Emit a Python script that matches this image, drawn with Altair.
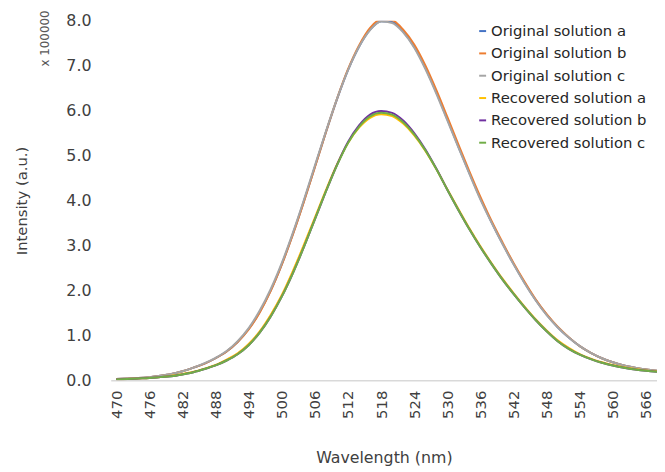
import altair as alt
import pandas as pd

wavelength = [470, 472, 474, 476, 478, 480, 482, 484, 486, 488,
              490, 492, 494, 496, 498, 500, 502, 504, 506, 508,
              510, 512, 514, 516, 518, 520, 522, 524, 526, 528,
              530, 532, 534, 536, 538, 540, 542, 544, 546, 548,
              550, 552, 554, 556, 558, 560, 562, 564, 566, 568]

orig_a = [0.03, 0.04, 0.05, 0.07, 0.10, 0.14, 0.20, 0.28, 0.37, 0.49,
          0.64, 0.85, 1.14, 1.52, 2.00, 2.58, 3.25, 3.98, 4.75, 5.52,
          6.25, 6.90, 7.42, 7.80, 7.99, 7.97, 7.76, 7.42, 6.96, 6.41,
          5.81, 5.20, 4.61, 4.04, 3.52, 3.04, 2.59, 2.17, 1.79, 1.46,
          1.18, 0.95, 0.76, 0.61, 0.49, 0.40, 0.33, 0.28, 0.24, 0.21]
orig_b = [0.03, 0.04, 0.05, 0.07, 0.10, 0.14, 0.20, 0.28, 0.37, 0.49,
          0.64, 0.85, 1.13, 1.51, 1.99, 2.57, 3.24, 3.97, 4.74, 5.52,
          6.26, 6.92, 7.45, 7.84, 8.03, 8.01, 7.80, 7.47, 7.01, 6.46,
          5.86, 5.25, 4.65, 4.08, 3.55, 3.07, 2.61, 2.19, 1.80, 1.47,
          1.19, 0.96, 0.76, 0.61, 0.49, 0.40, 0.33, 0.28, 0.24, 0.21]
orig_c = [0.03, 0.04, 0.05, 0.07, 0.10, 0.14, 0.20, 0.28, 0.38, 0.50,
          0.65, 0.87, 1.16, 1.55, 2.03, 2.61, 3.28, 4.01, 4.78, 5.54,
          6.26, 6.90, 7.42, 7.79, 7.98, 7.95, 7.74, 7.40, 6.93, 6.38,
          5.78, 5.18, 4.59, 4.02, 3.51, 3.03, 2.58, 2.16, 1.78, 1.45,
          1.18, 0.95, 0.76, 0.61, 0.49, 0.40, 0.33, 0.28, 0.24, 0.21]
rec_a = [0.02, 0.03, 0.04, 0.05, 0.07, 0.10, 0.14, 0.19, 0.26, 0.34,
         0.46, 0.60, 0.81, 1.09, 1.46, 1.90, 2.43, 3.01, 3.62, 4.23,
         4.80, 5.28, 5.62, 5.84, 5.92, 5.88, 5.71, 5.45, 5.11, 4.70,
         4.25, 3.81, 3.38, 2.98, 2.61, 2.26, 1.94, 1.64, 1.36, 1.11,
         0.89, 0.72, 0.58, 0.48, 0.40, 0.34, 0.29, 0.25, 0.22, 0.20]
rec_b = [0.02, 0.03, 0.04, 0.05, 0.07, 0.09, 0.13, 0.18, 0.25, 0.33,
         0.44, 0.58, 0.78, 1.06, 1.42, 1.86, 2.38, 2.96, 3.58, 4.20,
         4.79, 5.30, 5.67, 5.91, 5.99, 5.95, 5.78, 5.50, 5.14, 4.71,
         4.24, 3.79, 3.36, 2.96, 2.59, 2.24, 1.92, 1.62, 1.34, 1.09,
         0.87, 0.70, 0.57, 0.47, 0.39, 0.33, 0.28, 0.24, 0.21, 0.19]
rec_c = [0.02, 0.03, 0.04, 0.05, 0.07, 0.09, 0.13, 0.18, 0.25, 0.33,
         0.44, 0.58, 0.78, 1.06, 1.42, 1.86, 2.38, 2.96, 3.58, 4.20,
         4.78, 5.28, 5.64, 5.87, 5.95, 5.91, 5.74, 5.47, 5.12, 4.70,
         4.24, 3.79, 3.36, 2.96, 2.59, 2.24, 1.92, 1.62, 1.34, 1.09,
         0.87, 0.70, 0.57, 0.47, 0.39, 0.33, 0.28, 0.24, 0.21, 0.19]

series_names = ["Original solution a", "Original solution b", "Original solution c",
                "Recovered solution a", "Recovered solution b", "Recovered solution c"]
series_colors = ["#4472C4", "#ED7D31", "#A5A5A5", "#FFC000", "#7030A0", "#70AD47"]
x_ticks = [470, 476, 482, 488, 494, 500, 506, 512, 518, 524, 530, 536, 542, 548, 554, 560, 566]
y_ticks = [0, 1, 2, 3, 4, 5, 6, 7, 8]
unit_note = ["x 100000"]

FONT = "DejaVu Sans"
TXT = "#404040"

rows = []
for name, vals in zip(series_names, [orig_a, orig_b, orig_c, rec_a, rec_b, rec_c]):
    for w, v in zip(wavelength, vals):
        rows.append({"wavelength": w, "intensity": v, "series": name})
df = pd.DataFrame(rows)

lines = alt.Chart(df).mark_line(strokeWidth=2, clip=True, interpolate="monotone").encode(
    x=alt.X("wavelength:Q",
            scale=alt.Scale(domain=[469, 568], nice=False, zero=False),
            axis=alt.Axis(values=x_ticks, title="Wavelength (nm)", labelAngle=-90,
                          labelPadding=10, ticks=False, tickSize=0, grid=False,
                          domain=True, domainColor="#d9d9d9", domainWidth=1.5,
                          labelFontSize=15, titleFontSize=16, titlePadding=32)),
    y=alt.Y("intensity:Q",
            scale=alt.Scale(domain=[0, 8], nice=False),
            axis=alt.Axis(values=y_ticks, format=".1f", title="Intensity (a.u.)",
                          labelPadding=20, ticks=False, tickSize=0, grid=False,
                          domain=False, labelFontSize=16, titleFontSize=15,
                          titlePadding=37)),
    color=alt.Color("series:N",
                    scale=alt.Scale(domain=series_names, range=series_colors),
                    legend=alt.Legend(title=None, orient="none", legendX=369, legendY=3,
                                      symbolType="stroke", symbolSize=49, symbolStrokeWidth=2,
                                      labelFontSize=15, labelFont=FONT, labelColor="#262626",
                                      rowPadding=6.6, labelOffset=1, padding=0,
                                      labelLimit=400,
                                      labelExpr="indexof(datum.label, 'Original') == 0 ? '\u00a0\u00a0' + datum.label : datum.label")),
)

note = alt.Chart(pd.DataFrame({"t": unit_note})).mark_text(
    angle=270, fontSize=12, color="#595959", font=FONT, align="center", baseline="middle"
).encode(x=alt.value(-67), y=alt.value(18), text="t:N")

chart = alt.layer(lines, note).properties(
    width=553, height=364,
    autosize=alt.AutoSizeParams(type="none"),
    padding={"left": 104, "top": 10, "right": 0, "bottom": 90},
).configure_view(stroke=None).configure_axis(
    labelFont=FONT, titleFont=FONT, labelColor=TXT, titleColor=TXT,
    titleFontWeight="normal"
)

chart.save("out.html", embed_options={"renderer": "svg", "actions": False})
